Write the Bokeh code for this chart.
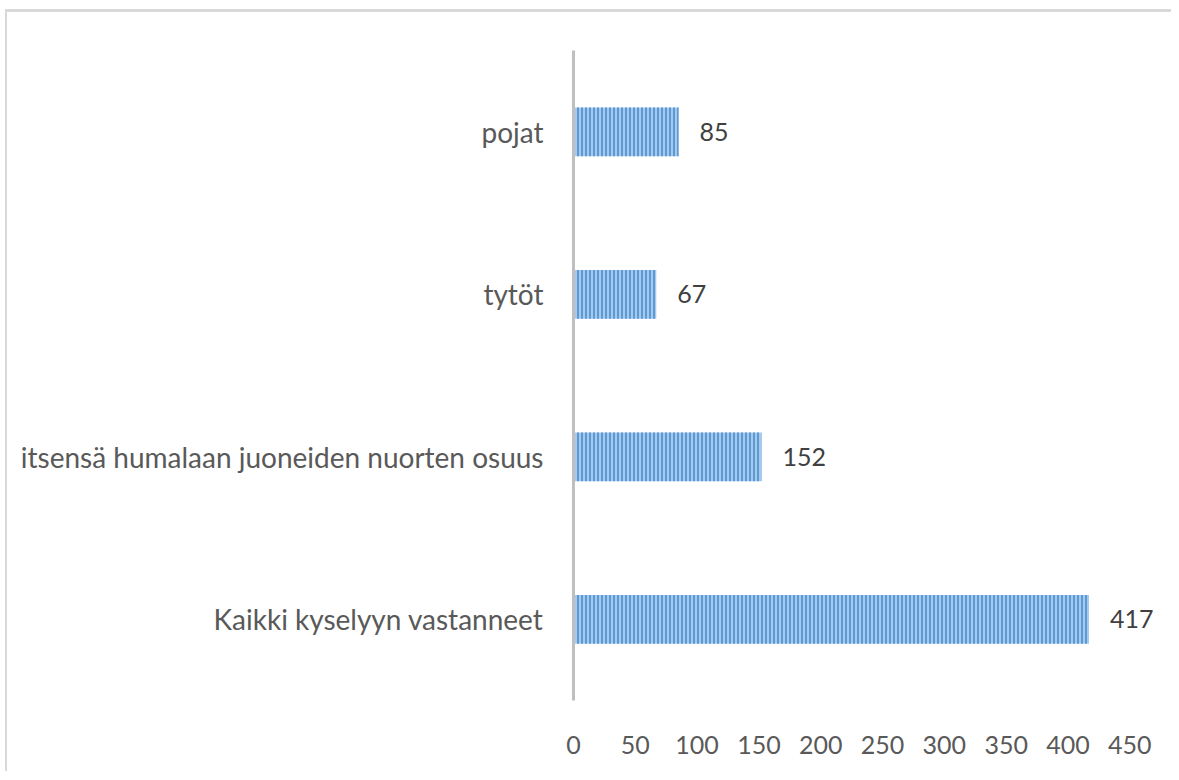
from bokeh.plotting import figure
from bokeh.models import ColumnDataSource, Range1d, FactorRange
from bokeh.embed import file_html
from bokeh.resources import INLINE
from bokeh.core.properties import value

categories = ["Kaikki kyselyyn vastanneet",
              "itsensä humalaan juoneiden nuorten osuus",
              "tytöt",
              "pojat"]
values = [417, 152, 67, 85]
ticks = [0, 50, 100, 150, 200, 250, 300, 350, 400, 450]

src = ColumnDataSource(dict(cat=categories, val=values, lab=[str(v) for v in values]))

FONT = "Lato"

p = figure(width=1166, height=762, output_backend="svg", toolbar_location=None,
           y_range=FactorRange(*categories, range_padding=0), x_range=Range1d(0, 470),
           min_border_left=566, min_border_right=19, min_border_top=38, min_border_bottom=74)
p.styles = {"margin-left": "5px", "margin-top": "9px",
            "border-left": "2px solid #d9d9d9", "border-top": "3px solid #d9d9d9"}

p.hbar(y="cat", right="val", left=0, height=0.3, source=src,
       fill_color="#a8c9ec", line_color=None,
       hatch_pattern="|", hatch_color="#5b9bd5", hatch_scale=4, hatch_weight=2)

p.text(x="val", y="cat", text="lab", source=src, x_offset=21,
       text_align="left", text_baseline="middle",
       text_font=value(FONT), text_font_size="25px", text_color="#404040")

p.outline_line_color=None
p.xgrid.visible=False
p.ygrid.visible=False
p.background_fill_color="white"
p.border_fill_color="white"

p.xaxis.ticker = ticks
p.xaxis.axis_line_color=None
p.xaxis.major_tick_line_color=None
p.xaxis.minor_tick_line_color=None
p.xaxis.major_label_standoff=29
p.xaxis.major_label_text_font=FONT
p.xaxis.major_label_text_font_size="25px"
p.xaxis.major_label_text_color="#595959"

p.yaxis.axis_line_color="#bfbfbf"
p.yaxis.axis_line_width=3
p.yaxis.major_tick_line_color=None
p.yaxis.minor_tick_line_color=None
p.yaxis.major_label_standoff=24
p.yaxis.major_label_text_font=FONT
p.yaxis.major_label_text_font_size="28px"
p.yaxis.major_label_text_color="#595959"

open("out.html", "w").write(file_html(p, INLINE))
